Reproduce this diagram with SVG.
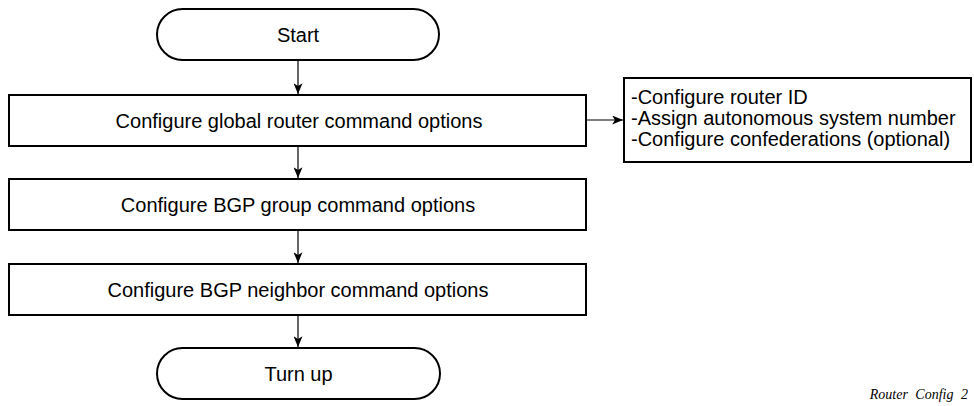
<svg xmlns="http://www.w3.org/2000/svg" width="974" height="406" viewBox="0 0 974 406">
<style>
.box{fill:#fff;stroke:#000;stroke-width:2}
.t{font-family:"Liberation Sans",Arial,sans-serif;font-size:20px;fill:#000}
.c{text-anchor:middle}
.ln{stroke:#000;stroke-width:1.2;fill:none}
.cap{font-family:"Liberation Serif","Times New Roman",serif;font-style:italic;font-size:14px;fill:#000;text-anchor:end;word-spacing:4px}
</style>
<defs>
<marker id="ah" viewBox="0 0 12 10" refX="12" refY="5" markerWidth="12" markerHeight="9" markerUnits="userSpaceOnUse" orient="auto">
<path d="M0,0 L12,5 L0,10 L3,5 Z" fill="#000"/>
</marker>
</defs>
<rect width="974" height="406" fill="#fff"/>
<g id="connectors">
<line class="ln" x1="298" y1="60" x2="298" y2="94" marker-end="url(#ah)"/>
<line class="ln" x1="298" y1="146" x2="298" y2="178" marker-end="url(#ah)"/>
<line class="ln" x1="298" y1="230" x2="298" y2="263" marker-end="url(#ah)"/>
<line class="ln" x1="298" y1="315" x2="298" y2="347" marker-end="url(#ah)"/>
<line class="ln" x1="586" y1="120" x2="623" y2="120" marker-end="url(#ah)"/>
</g>
<g id="start">
<rect class="box" x="157" y="9" width="282" height="51" rx="25.5"/>
<text class="t c" x="298" y="41.5">Start</text>
</g>
<g id="global">
<rect class="box" x="9" y="95" width="577" height="51"/>
<text class="t c" x="299" y="127.5">Configure global router command options</text>
</g>
<g id="notes">
<rect class="box" x="624" y="78" width="347" height="84"/>
<text class="t" x="631" y="104">-Configure router ID</text>
<text class="t" x="631" y="125">-Assign autonomous system number</text>
<text class="t" x="631" y="146">-Configure confederations (optional)</text>
</g>
<g id="group">
<rect class="box" x="9" y="179" width="577" height="51"/>
<text class="t c" x="298" y="211.5">Configure BGP group command options</text>
</g>
<g id="neighbor">
<rect class="box" x="9" y="264" width="577" height="51"/>
<text class="t c" x="298" y="296.5">Configure BGP neighbor command options</text>
</g>
<g id="turnup">
<rect class="box" x="157" y="348" width="283" height="51" rx="25.5"/>
<text class="t c" x="298.5" y="380.5">Turn up</text>
</g>
<text class="cap" x="968" y="399">Router Config 2</text>
</svg>
